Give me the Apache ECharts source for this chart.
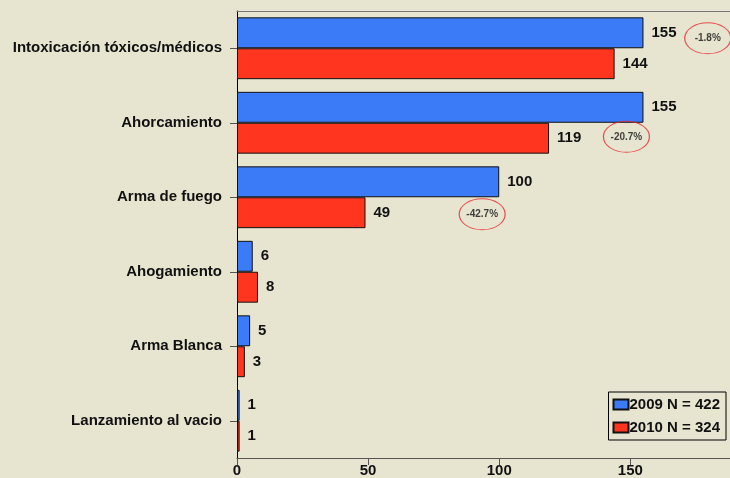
<!DOCTYPE html>
<html><head><meta charset="utf-8">
<script src="https://cdn.jsdelivr.net/npm/echarts@6/dist/echarts.min.js"></script>
<style>html,body{margin:0;padding:0;background:#E7E4D0;}#c{width:730px;height:478px;}</style>
</head><body><div id="c"></div>
<script>
const categories = ['Intoxicación tóxicos/médicos','Ahorcamiento','Arma de fuego','Ahogamiento','Arma Blanca','Lanzamiento al vacio'];
const values2009 = [155,155,100,6,5,1];
const values2010 = [144,119,49,8,3,1];
const seriesNames = ['2009 N = 422','2010 N = 324'];
const changeLabels = ['-1.8%','-20.7%','-42.7%'];
const changeX = [179.5,148.5,93.5];
const xTicks = [0,50,100,150];

const chart = echarts.init(document.getElementById('c'), null, {renderer:'canvas'});
const font = 'Liberation Sans, Arial, sans-serif';
const offsets = [[0,-10],[0,14],[0,17]];
chart.setOption({
  backgroundColor:'#E7E4D0',
  animation:false,
  grid:{left:237, top:11, right:0, bottom:20, containLabel:false},
  legend:{
    orient:'vertical', right:4, bottom:38,
    data:seriesNames,
    itemWidth:15, itemHeight:10, itemGap:8,
    borderColor:'#000', borderWidth:1, padding:[5,6,5,4],
    textStyle:{fontFamily:font, fontWeight:'bold', fontSize:15, color:'#111', padding:[0,0,0,-4]},
    icon:'rect'
  },
  xAxis:[{
    type:'value', min:0, max:188, interval:50,
    axisLine:{show:true, lineStyle:{color:'#555', width:1}},
    axisTick:{show:true, length:7, customValues:xTicks, lineStyle:{color:'#555'}},
    axisLabel:{fontFamily:font, fontWeight:'bold', fontSize:15, color:'#111', margin:5, customValues:xTicks},
    splitLine:{show:false}
  },{
    type:'value', position:'top', min:0, max:188,
    axisLine:{show:true, lineStyle:{color:'#777', width:1}},
    axisTick:{show:false}, axisLabel:{show:false}, splitLine:{show:false}
  }],
  yAxis:{
    type:'category', inverse:true, data:categories,
    axisLine:{show:true, lineStyle:{color:'#000', width:1}},
    axisTick:{show:true, alignWithLabel:true, length:7, lineStyle:{color:'#555'}},
    axisLabel:{fontFamily:font, fontWeight:'bold', fontSize:15, color:'#111', margin:15}
  },
  series:[
    {name:seriesNames[0], type:'bar', data:values2009, barGap:'0%', barCategoryGap:'17%',
     itemStyle:{color:'#3B7BF7', borderColor:'#111', borderWidth:1},
     label:{show:true, position:'right', distance:8, fontFamily:font, fontWeight:'bold', fontSize:15, color:'#111'}},
    {name:seriesNames[1], type:'bar', data:values2010, barGap:'0%', barCategoryGap:'17%',
     itemStyle:{color:'#FF3520', borderColor:'#111', borderWidth:1},
     label:{show:true, position:'right', distance:8, fontFamily:font, fontWeight:'bold', fontSize:15, color:'#111'}},
    {type:'scatter', silent:true, legendHoverLink:false,
     data: changeLabels.map((t,i)=>({value:[changeX[i], categories[i]], symbolOffset:offsets[i]})),
     symbol:'circle', symbolSize:[46,31],
     itemStyle:{color:'rgba(0,0,0,0)', borderColor:'#E8242A', borderWidth:1},
     label:{show:true, position:'inside', fontFamily:font, fontWeight:'bold', fontSize:10, color:'#111',
       formatter:p=>changeLabels[p.dataIndex]}, z:5}
  ]
});
</script></body></html>
